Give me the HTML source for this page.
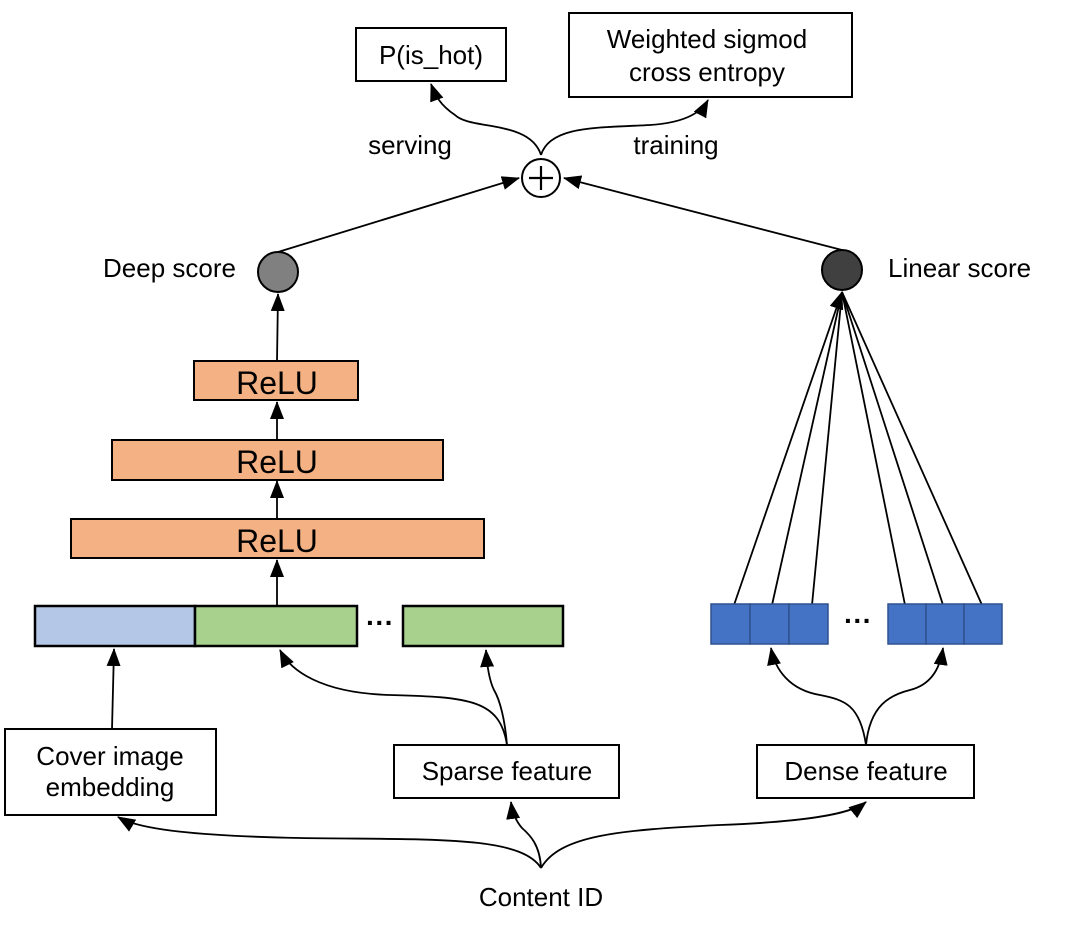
<!DOCTYPE html>
<html><head><meta charset="utf-8"><style>
html,body{margin:0;padding:0;background:#fff;}
svg{display:block;}
text{font-family:"Liberation Sans","DejaVu Sans",sans-serif;fill:#000;}
</style></head><body>
<svg width="1080" height="928" viewBox="0 0 1080 928" xmlns="http://www.w3.org/2000/svg">
<defs>
<marker id="a" markerWidth="18" markerHeight="14" refX="17" refY="7" orient="auto" markerUnits="userSpaceOnUse">
<path d="M0,0 L18,7 L0,14 z" fill="#000"/></marker>
</defs>
<g fill="none" stroke="#000" stroke-width="1.8">
<path d="M541,155 C530,120 470,130 455,115 C440,105 435,95 431,84" marker-end="url(#a)"/>
<path d="M541,155 C550,125 600,128 650,125 C680,123 700,115 708,100" marker-end="url(#a)"/>
<path d="M278,252 L519,178" marker-end="url(#a)"/>
<path d="M842,250 L564,178" marker-end="url(#a)"/>
<path d="M277,361 L278,294" marker-end="url(#a)"/>
<path d="M277,440 L277,402" marker-end="url(#a)"/>
<path d="M277,519 L277,481" marker-end="url(#a)"/>
<path d="M277,605 L277,560" marker-end="url(#a)"/>
<path d="M734,605 L842,292" marker-end="url(#a)"/>
<path d="M772,605 L842,292"/>
<path d="M812,605 L842,292"/>
<path d="M905,605 L842,292"/>
<path d="M943,605 L842,292"/>
<path d="M982,605 L842,292"/>
<path d="M112,729 L114,649" marker-end="url(#a)"/>
<path d="M507,745 C500,700 470,697 390,695 C320,693 290,670 280,650" marker-end="url(#a)"/>
<path d="M507,745 C505,720 500,700 494,690 C489,680 487,665 486,650" marker-end="url(#a)"/>
<path d="M866,745 C860,705 845,700 820,695 C790,690 775,670 771,648" marker-end="url(#a)"/>
<path d="M866,745 C870,705 890,695 910,690 C930,685 940,670 943,648" marker-end="url(#a)"/>
<path d="M541,868 C520,835 430,840 300,838 C200,836 140,830 118,817" marker-end="url(#a)"/>
<path d="M541,868 C540,845 530,835 522,828 C515,820 512,810 511,802" marker-end="url(#a)"/>
<path d="M541,868 C560,835 620,830 720,825 C800,822 850,815 866,802" marker-end="url(#a)"/>
</g>
<rect x="356" y="28" width="150" height="53" fill="#fff" stroke="#000" stroke-width="2"/>
<text x="431" y="64" font-size="26" text-anchor="middle">P(is_hot)</text>
<rect x="569" y="13" width="283" height="84" fill="#fff" stroke="#000" stroke-width="2"/>
<text x="707" y="48" font-size="26" text-anchor="middle">Weighted sigmod</text>
<text x="707" y="81" font-size="26" text-anchor="middle">cross entropy</text>
<text x="410" y="154" font-size="26" text-anchor="middle">serving</text>
<text x="676" y="154" font-size="26" text-anchor="middle">training</text>
<circle cx="541" cy="178" r="19" fill="#fff" stroke="#000" stroke-width="2"/>
<path d="M529,178 H553 M541,166 V190" stroke="#000" stroke-width="2.2"/>
<circle cx="278" cy="272" r="20" fill="#808080" stroke="#000" stroke-width="2"/>
<text x="236" y="277" font-size="26" text-anchor="end">Deep score</text>
<circle cx="842" cy="270" r="20" fill="#404040" stroke="#000" stroke-width="2"/>
<text x="888" y="277" font-size="26">Linear score</text>
<g stroke="#000" stroke-width="2" fill="#f4b183">
<rect x="194" y="361" width="164" height="39"/>
<rect x="112" y="440" width="331" height="40"/>
<rect x="71" y="519" width="413" height="39"/>
</g>
<text x="277" y="394" font-size="32" text-anchor="middle">ReLU</text>
<text x="277" y="473" font-size="32" text-anchor="middle">ReLU</text>
<text x="277" y="552" font-size="32" text-anchor="middle">ReLU</text>
<rect x="35" y="606" width="160" height="40" fill="#b4c7e7" stroke="#000" stroke-width="2.5"/>
<rect x="195" y="606" width="162" height="40" fill="#a9d18e" stroke="#000" stroke-width="2.5"/>
<rect x="403" y="606" width="160" height="40" fill="#a9d18e" stroke="#000" stroke-width="2.5"/>
<text x="380" y="632" font-size="28" font-weight="bold" text-anchor="middle">···</text>
<g fill="#4472c4" stroke="#2f528f" stroke-width="1.5">
<rect x="711" y="604" width="39" height="40"/><rect x="750" y="604" width="39" height="40"/><rect x="789" y="604" width="39" height="40"/>
<rect x="888" y="604" width="38" height="40"/><rect x="926" y="604" width="38" height="40"/><rect x="964" y="604" width="38" height="40"/>
</g>
<text x="858" y="630" font-size="28" font-weight="bold" text-anchor="middle">···</text>
<rect x="5" y="729" width="211" height="86" fill="#fff" stroke="#000" stroke-width="2"/>
<text x="110" y="765" font-size="26" text-anchor="middle">Cover image</text>
<text x="110" y="796" font-size="26" text-anchor="middle">embedding</text>
<rect x="394" y="745" width="225" height="53" fill="#fff" stroke="#000" stroke-width="2"/>
<text x="507" y="780" font-size="26" text-anchor="middle">Sparse feature</text>
<rect x="757" y="745" width="217" height="53" fill="#fff" stroke="#000" stroke-width="2"/>
<text x="866" y="780" font-size="26" text-anchor="middle">Dense feature</text>
<text x="541" y="906" font-size="26" text-anchor="middle">Content ID</text>
</svg>
</body></html>
